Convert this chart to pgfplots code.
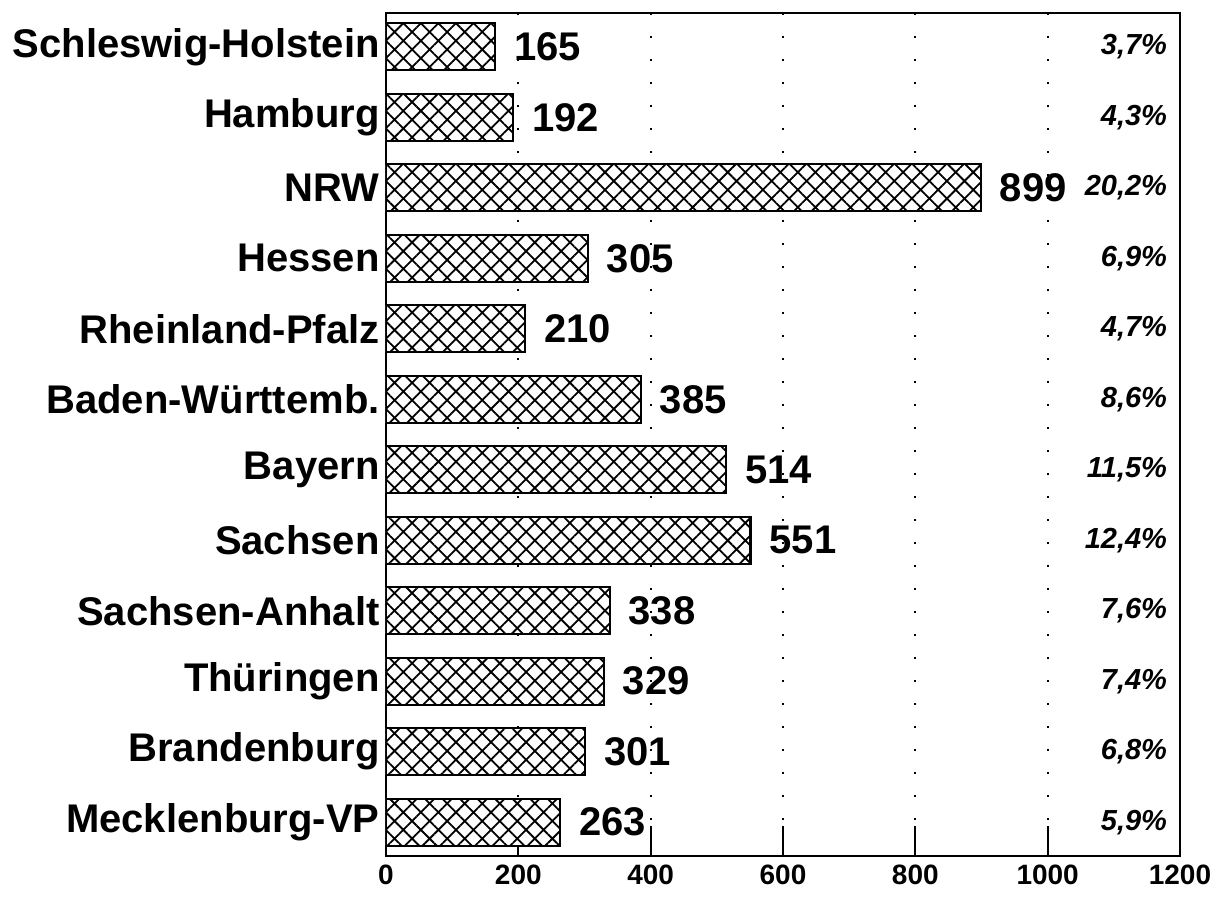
\documentclass[border=0pt]{standalone}
\usepackage{fontspec}
\setmainfont{Liberation Sans}
\usepackage{pgfplots}
\pgfplotsset{compat=1.18}
\usetikzlibrary{patterns.meta}
\begin{document}
\begin{tikzpicture}
\useasboundingbox (-193pt,-22pt) rectangle (418pt,428pt);
\begin{axis}[
  at={(0,0)}, anchor=south west,
  scale only axis,
  width=397pt, height=421.5pt,
  xmin=0, xmax=1200,
  ymin=-0.48, ymax=11.48,
  y dir=reverse,
  axis line style={line width=1.2pt},
  xtick={0,200,400,600,800,1000,1200},
  xtick pos=bottom,
  tick align=inside,
  major tick length=15pt,
  x tick style={line width=0.9pt, black},
  xmajorgrids,
  grid style={black, line width=1.1pt, dash pattern=on 1.1pt off 10.4pt},
  ytick={0,...,11},
  ytick pos=left,
  y tick style={line width=0.8pt, black, /pgfplots/major tick length=4pt},
  yticklabels={Schleswig-Holstein,Hamburg,NRW,Hessen,Rheinland-Pfalz,Baden-Württemb.,Bayern,Sachsen,Sachsen-Anhalt,Thüringen,Brandenburg,Mecklenburg-VP},
  yticklabel style={font=\bfseries\fontsize{20}{20}\selectfont, inner sep=0pt, xshift=-3pt},
  xticklabel style={font=\bfseries\fontsize{14}{14}\selectfont, yshift=-1pt},
  /pgf/number format/assume math mode=true,
  /pgf/number format/1000 sep={},
]
\addplot[xbar, bar width=23.5pt, draw=black, line width=1.1pt,
  preaction={fill=white},
  pattern={Hatch[angle=45,distance=6.2pt,line width=0.9pt]},
  nodes near coords,
  every node near coord/.append style={font=\bfseries\fontsize{20}{20}\selectfont, inner sep=0pt, xshift=9pt, black}
] coordinates {
(165,0) (192,1) (899,2) (305,3) (210,4) (385,5) (514,6) (551,7) (338,8) (329,9) (301,10) (263,11)
};
\addplot[draw=none, mark=none,
  nodes near coords, point meta=explicit symbolic,
  nodes near coords align={anchor=east},
  every node near coord/.append style={font=\bfseries\itshape\fontsize{14.5}{14.5}\selectfont, inner sep=0pt, black}
] coordinates {
(1181,0) [3,7\%]
(1181,1) [4,3\%]
(1181,2) [20,2\%]
(1181,3) [6,9\%]
(1181,4) [4,7\%]
(1181,5) [8,6\%]
(1181,6) [11,5\%]
(1181,7) [12,4\%]
(1181,8) [7,6\%]
(1181,9) [7,4\%]
(1181,10) [6,8\%]
(1181,11) [5,9\%]
};
\end{axis}
\end{tikzpicture}
\end{document}
